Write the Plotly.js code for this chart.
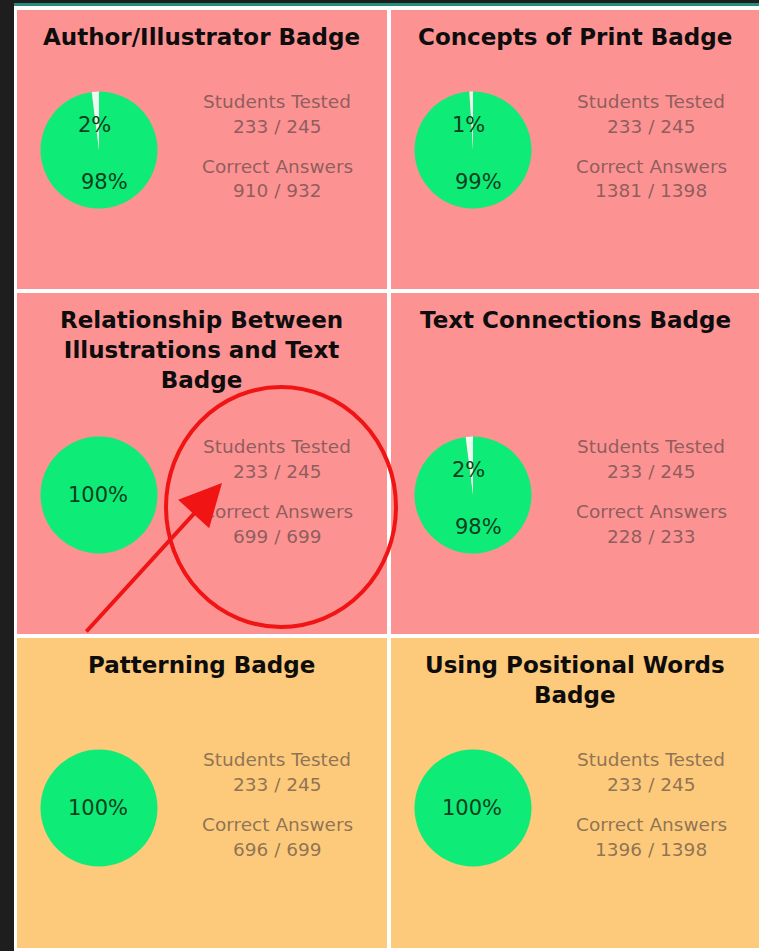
<!DOCTYPE html>
<html>
<head>
<meta charset="utf-8">
<script src="https://cdn.plot.ly/plotly-3.0.1.min.js"></script>
<style>html,body{margin:0;padding:0;background:#1e1e1e;}#chart{width:759px;height:951px;}</style>
</head>
<body>
<div id="chart"></div>
<script>
// ---- data ----
const badges = [
  "Author/Illustrator Badge",
  "Concepts of Print Badge",
  "Relationship Between<br>Illustrations and Text<br>Badge",
  "Text Connections Badge",
  "Patterning Badge",
  "Using Positional Words<br>Badge"
];
const studentsTested = [233, 233, 233, 233, 233, 233];
const studentsTotal  = [245, 245, 245, 245, 245, 245];
const correctAnswers = [910, 1381, 699, 228, 696, 1396];
const totalAnswers   = [932, 1398, 699, 233, 699, 1398];
const cellStatus     = ["low", "low", "low", "low", "mid", "mid"];

// ---- layout helpers ----
const W = 759, H = 951;
const px = x => x / W;
const py = y => 1 - y / H;
const colLeft = [17, 391], colRight = [387, 759];
const rowTop = [10, 293, 638], rowBottom = [289, 634, 948];
const pieCY = [150, 495, 808];
const titleCY = [[37, 37], [350, 320], [665, 680]];
const statusColor = {low: "#FD9292", mid: "#FDC97A"};
const R = 58.5;

const traces = [];
const shapes = [];
const annotations = [];

// background frame
shapes.push({type: "rect", xref: "paper", yref: "paper", x0: px(14), x1: 1, y0: 0, y1: py(6),
  fillcolor: "#ffffff", line: {width: 0}, layer: "below"});
shapes.push({type: "rect", xref: "paper", yref: "paper", x0: px(14), x1: 1, y0: py(6), y1: py(3),
  fillcolor: "#278c7c", line: {width: 0}, layer: "below"});

badges.forEach((name, i) => {
  const c = i % 2, r = Math.floor(i / 2);
  const x0 = colLeft[c], x1 = colRight[c], y0 = rowTop[r], y1 = rowBottom[r];
  shapes.push({type: "rect", xref: "paper", yref: "paper", x0: px(x0), x1: px(x1), y0: py(y1), y1: py(y0),
    fillcolor: statusColor[cellStatus[i]], line: {width: 0}, layer: "below"});

  const cx = x0 + 82, cy = pieCY[r];
  const pct = Math.round(100 * correctAnswers[i] / totalAnswers[i]);
  traces.push({
    type: "pie",
    values: [pct, 100 - pct],
    labels: ["Correct", "Incorrect"],
    sort: false,
    direction: "clockwise",
    rotation: 0,
    textinfo: "none",
    hoverinfo: "label+percent",
    showlegend: false,
    marker: {colors: ["#0FEB77", "#EAFBF0"], line: {width: 0}},
    domain: {x: [px(cx - R), px(cx + R)], y: [py(cy + R), py(cy - R)]}
  });

  const pctFont = {family: "DejaVu Sans", size: 21, color: "#0c3f20"};
  if (pct >= 100) {
    annotations.push({xref: "paper", yref: "paper", x: px(cx - 1), y: py(cy), text: pct + "%",
      showarrow: false, font: pctFont, xanchor: "center", yanchor: "middle"});
  } else {
    annotations.push({xref: "paper", yref: "paper", x: px(cx - 5), y: py(cy - 25), text: (100 - pct) + "%",
      showarrow: false, font: pctFont, xanchor: "center", yanchor: "middle"});
    annotations.push({xref: "paper", yref: "paper", x: px(cx + 5), y: py(cy + 32), text: pct + "%",
      showarrow: false, font: pctFont, xanchor: "center", yanchor: "middle"});
  }

  // title
  annotations.push({xref: "paper", yref: "paper", x: px((x0 + x1) / 2), y: py(titleCY[r][c]),
    text: "<b>" + name + "</b>", showarrow: false, align: "center",
    font: {family: "DejaVu Sans", size: 23, color: "#0d0d0d"}, xanchor: "center", yanchor: "middle"});

  // stats
  const sx = x0 + 260;
  const statFont = {family: "DejaVu Sans", size: 18.5, color: "rgba(70,60,60,0.62)"};
  const stats = [["Students Tested", -49], [studentsTested[i] + " / " + studentsTotal[i], -24],
                 ["Correct Answers", 16], [correctAnswers[i] + " / " + totalAnswers[i], 41]];
  stats.forEach(([t, dy]) => {
    annotations.push({xref: "paper", yref: "paper", x: px(sx), y: py(cy + dy), text: t,
      showarrow: false, font: statFont, xanchor: "center", yanchor: "middle"});
  });
});

// red highlight circle and arrow
shapes.push({type: "circle", xref: "paper", yref: "paper", x0: px(166), x1: px(396), y0: py(627), y1: py(387),
  line: {color: "#F01414", width: 4}, fillcolor: "rgba(0,0,0,0)"});
annotations.push({xref: "paper", yref: "paper", x: px(222), y: py(483), ax: -137, ay: 150, text: "",
  showarrow: true, arrowhead: 2, arrowsize: 2.1, arrowwidth: 4, arrowcolor: "#F01414"});

Plotly.newPlot("chart", traces, {
  width: W, height: H,
  margin: {l: 0, r: 0, t: 0, b: 0},
  paper_bgcolor: "#1e1e1e",
  plot_bgcolor: "rgba(0,0,0,0)",
  shapes: shapes,
  annotations: annotations,
  showlegend: false
}, {displayModeBar: false, staticPlot: true});
</script>
</body>
</html>
